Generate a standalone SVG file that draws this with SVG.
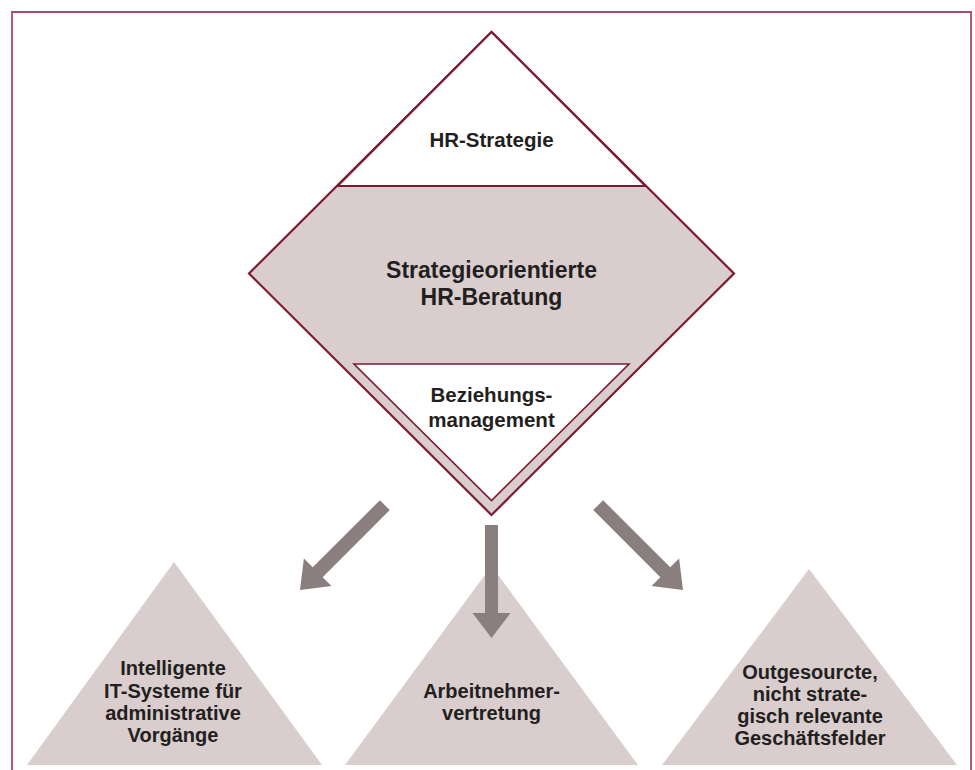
<svg xmlns="http://www.w3.org/2000/svg" xmlns:xlink="http://www.w3.org/1999/xlink" width="975" height="770" viewBox="0 0 975 770">
  <style>
    .frame { fill: none; stroke: #a94c66; stroke-width: 1.8; }
    .band { fill: #d9cdcd; stroke: #7c1c34; stroke-width: 2.2; stroke-linejoin: miter; }
    .white { fill: #ffffff; stroke: #7c1c34; stroke-width: 2.2; }
    .inner { fill: #ffffff; stroke: #7c1c34; stroke-width: 1.6; }
    .tri { fill: #d9cdcd; stroke: none; }
    .arrow { fill: #8b7e7e; stroke: none; }
    .lbl { font-family: "Liberation Sans", Arial, sans-serif; font-weight: bold; fill: #231f20; text-anchor: middle; }
    .l20 { font-size: 20.5px; }
    .l22 { font-size: 23px; }
    .l19 { font-size: 20px; }
  </style>
  <defs>
    <polygon id="arrowDiag" points="0,0 -25,-19.5 -25,-7 -120,-7 -120,7 -25,7 -25,19.5"/>
    <polygon id="arrowDown" points="0,0 -25,-19 -25,-6.5 -113,-6.5 -113,6.5 -25,6.5 -25,19"/>
  </defs>
  <rect width="975" height="770" fill="#ffffff"/>
  <path class="frame" d="M12,775 V12 H971 V775"/>

  <g id="diamond">
    <polygon class="band" points="491.5,32 734,273.5 491.5,515 249,273.5"/>
    <g id="hr-strategie">
      <polygon class="white" points="491.5,32 645.5,186 337.5,186"/>
      <text class="lbl l20" x="491.5" y="147">HR-Strategie</text>
    </g>
    <g id="hr-beratung">
      <text class="lbl l22" x="491.5" y="278">Strategieorientierte</text>
      <text class="lbl l22" x="491.5" y="305">HR-Beratung</text>
    </g>
    <g id="beziehungsmanagement">
      <polygon class="inner" points="354,364 629,364 491.5,500.5"/>
      <text class="lbl l20" x="491.5" y="402">Beziehungs-</text>
      <text class="lbl l20" x="491.5" y="427">management</text>
    </g>
  </g>

  <g id="it-systeme">
    <polygon class="tri" points="174,562 322,765 27,765"/>
    <text class="lbl l19" x="173" y="675">Intelligente</text>
    <text class="lbl l19" x="173" y="697.5">IT-Systeme für</text>
    <text class="lbl l19" x="173" y="720">administrative</text>
    <text class="lbl l19" x="173" y="742">Vorgänge</text>
  </g>

  <g id="arbeitnehmervertretung">
    <polygon class="tri" points="491.5,566 638,765 345,765"/>
    <text class="lbl l19" x="491.5" y="698">Arbeitnehmer-</text>
    <text class="lbl l19" x="491.5" y="720">vertretung</text>
  </g>

  <g id="outgesourcte">
    <polygon class="tri" points="809,569 957,765 662,765"/>
    <text class="lbl l19" x="810" y="679">Outgesourcte,</text>
    <text class="lbl l19" x="810" y="701">nicht strate-</text>
    <text class="lbl l19" x="810" y="723">gisch relevante</text>
    <text class="lbl l19" x="810" y="745">Geschäftsfelder</text>
  </g>

  <g id="connectors">
    <use xlink:href="#arrowDiag" class="arrow" transform="translate(300,590) rotate(135)"/>
    <use xlink:href="#arrowDown" class="arrow" transform="translate(491.5,638) rotate(90)"/>
    <use xlink:href="#arrowDiag" class="arrow" transform="translate(683,590) rotate(45)"/>
  </g>
</svg>
